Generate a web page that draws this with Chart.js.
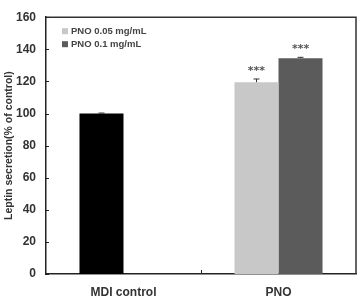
<!DOCTYPE html>
<html>
<head>
<meta charset="utf-8">
<script src="https://cdn.jsdelivr.net/npm/chart.js@4/dist/chart.umd.min.js"></script>
<style>
  html, body { margin: 0; padding: 0; background: #fff; }
  #wrap { width: 361px; height: 296px; position: relative; }
</style>
</head>
<body>
<div id="wrap"><canvas id="chart"></canvas></div>
<script>
// Data
const categories = ['MDI control', 'PNO'];
const seriesLabels = ['MDI control', 'PNO 0.05 mg/mL', 'PNO 0.1 mg/mL'];
const mdiValues = [100, null];
const pno005Values = [null, 119.5];
const pno01Values = [null, 134.5];
const mdiErrors = [0.3, null];
const pno005Errors = [null, 2];
const pno01Errors = [null, 0.5];
const pno005Marks = [null, '***'];
const pno01Marks = [null, '***'];
const yTicks = [0, 20, 40, 60, 80, 100, 120, 140, 160];

const colors = ['#000000', '#c8c8c8', '#5b5b5b'];
const errorSets = [mdiErrors, pno005Errors, pno01Errors];
const markSets = [[null, null], pno005Marks, pno01Marks];

// error bars, significance marks, inward ticks, frame, legend
const extras = {
    id: 'extras',
    afterDatasetsDraw(chart) {
        const ctx = chart.ctx;
        const y = chart.scales.y;
        const x = chart.scales.x;
        const area = chart.chartArea;
        ctx.save();

        chart.data.datasets.forEach((ds, di) => {
            const meta = chart.getDatasetMeta(di);
            meta.data.forEach((bar, i) => {
                const v = ds.data[i];
                if (v == null) return;
                const err = errorSets[di][i];
                let top = y.getPixelForValue(v);
                if (err != null) {
                    top = y.getPixelForValue(v + err);
                    ctx.strokeStyle = '#333';
                    ctx.lineWidth = 1;
                    ctx.beginPath();
                    ctx.moveTo(bar.x, y.getPixelForValue(v));
                    ctx.lineTo(bar.x, top);
                    ctx.moveTo(bar.x - 3, top);
                    ctx.lineTo(bar.x + 3, top);
                    ctx.stroke();
                }
                const mark = markSets[di][i];
                if (mark) {
                    ctx.fillStyle = '#555';
                    ctx.font = 'bold 11px "DejaVu Sans", sans-serif';
                    ctx.textAlign = 'center';
                    ctx.textBaseline = 'middle';
                    ctx.fillText(mark, bar.x, top - 8);
                }
            });
        });

        // frame top/right
        ctx.strokeStyle = '#333';
        ctx.lineWidth = 1.5;
        ctx.beginPath();
        ctx.moveTo(area.left, area.top);
        ctx.lineTo(area.right, area.top);
        ctx.lineTo(area.right, area.bottom);
        ctx.stroke();

        // inward y ticks
        ctx.lineWidth = 1;
        ctx.strokeStyle = '#222';
        ctx.beginPath();
        yTicks.forEach(t => {
            const py = Math.round(y.getPixelForValue(t)) + 0.5;
            ctx.moveTo(area.left, py);
            ctx.lineTo(area.left + 3, py);
        });
        // inward x tick between categories
        const mid = Math.round((x.getPixelForValue(0) + x.getPixelForValue(1)) / 2) + 0.5;
        ctx.moveTo(mid, area.bottom);
        ctx.lineTo(mid, area.bottom - 4);
        ctx.stroke();

        // legend
        ctx.font = 'bold 9.5px "Liberation Sans", Arial, sans-serif';
        ctx.textAlign = 'left';
        ctx.textBaseline = 'middle';
        [1, 2].forEach((di, k) => {
            const ly = area.top + 14 + k * 13;
            ctx.fillStyle = colors[di];
            ctx.fillRect(area.left + 16, ly - 3, 6, 6);
            ctx.fillStyle = '#444';
            ctx.fillText(seriesLabels[di], area.left + 25, ly);
        });
        ctx.restore();
    }
};

new Chart(document.getElementById('chart'), {
    type: 'bar',
    data: {
        labels: categories,
        datasets: [
            { label: seriesLabels[0], data: mdiValues, backgroundColor: colors[0], stack: 'a' },
            { label: seriesLabels[1], data: pno005Values, backgroundColor: colors[1], stack: 'a' },
            { label: seriesLabels[2], data: pno01Values, backgroundColor: colors[2], stack: 'b' }
        ]
    },
    options: {
        responsive: true,
        maintainAspectRatio: false,
        animation: false,
        layout: { padding: { top: 11, right: 5, left: 0, bottom: 0 } },
        datasets: { bar: { categoryPercentage: 0.568, barPercentage: 1 } },
        plugins: {
            legend: { display: false },
            tooltip: { enabled: false }
        },
        scales: {
            x: {
                stacked: true,
                grid: { display: false, drawTicks: false },
                border: { display: true, color: '#222', width: 1.5 },
                ticks: {
                    color: '#333',
                    padding: 11,
                    font: { family: '"Liberation Sans", Arial, sans-serif', size: 12, weight: 'bold' }
                },
                afterFit: s => { s.height = 22; }
            },
            y: {
                stacked: true,
                min: 0,
                max: 160,
                grid: { display: false, drawTicks: false },
                border: { display: true, color: '#222', width: 1.5 },
                afterBuildTicks: s => { s.ticks = yTicks.map(v => ({ value: v })); },
                ticks: {
                    color: '#333',
                    padding: 10,
                    font: { family: '"Liberation Sans", Arial, sans-serif', size: 12, weight: 'bold' }
                },
                title: {
                    display: true,
                    text: 'Leptin secretion(% of control)',
                    color: '#333',
                    padding: { top: 3, bottom: 0 },
                    font: { family: '"Liberation Sans", Arial, sans-serif', size: 10.5, weight: 'bold' }
                },
                afterFit: s => { s.width = 46; }
            }
        }
    },
    plugins: [extras]
});
</script>
</body>
</html>
